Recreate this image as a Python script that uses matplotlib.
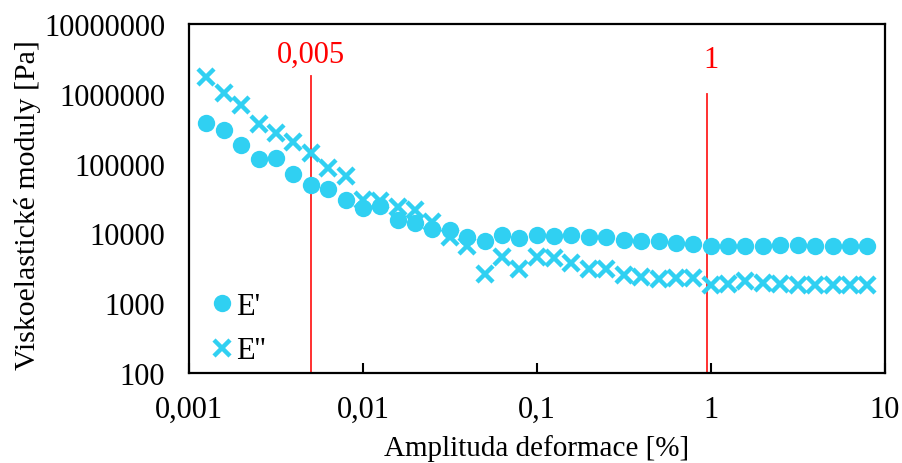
import matplotlib
matplotlib.use("Agg")
import matplotlib.pyplot as plt
from matplotlib.ticker import FixedLocator, NullLocator

plt.rcParams['font.family'] = ['Liberation Serif', 'DejaVu Serif']
plt.rcParams['font.size'] = 22

# amplituda deformace [%]
strain = [0.00126, 0.00158, 0.002, 0.00251, 0.00316, 0.00398, 0.00501, 0.00631, 0.00794,
          0.01, 0.0126, 0.0158, 0.02, 0.0251, 0.0316, 0.0398, 0.0501, 0.0631, 0.0794,
          0.1, 0.126, 0.158, 0.2, 0.251, 0.316, 0.398, 0.501, 0.631, 0.794,
          1.0, 1.26, 1.58, 2.0, 2.51, 3.16, 3.98, 5.01, 6.31, 7.94]
e_store = [378000, 303000, 184000, 116000, 122000, 72000, 49000, 44000, 30000,
           23000, 24800, 15800, 14300, 11700, 11100, 8900, 7800, 9400, 8700,
           9400, 9100, 9600, 8900, 8900, 8100, 7900, 7700, 7300, 7100,
           6700, 6700, 6700, 6700, 6900, 6900, 6700, 6700, 6700, 6700]
e_loss = [1770000, 1020000, 694000, 366000, 278000, 206000, 140000, 87000, 67000,
          30000, 29000, 24000, 22000, 14600, 8900, 6700, 2640, 4600, 3100,
          4600, 4450, 3800, 3100, 3050, 2500, 2400, 2240, 2300, 2300,
          1840, 1900, 2080, 1960, 1900, 1840, 1820, 1820, 1820, 1820]

marks = [0.005, 0.95]
mark_tops = [1.8e6, 1.0e6]
mark_labels = ['0,005', '1']
label_pos = [(0.005, 3.7e6), (1.0, 3.1e6)]

cyan = '#30D0F2'

fig = plt.figure(figsize=(9.02, 4.64), dpi=100)
ax = fig.add_axes([0.2095, 0.194, 0.7715, 0.752])

for xm, top in zip(marks, mark_tops):
    ax.plot([xm, xm], [100, top], color='#FF2020', lw=1.3, zorder=1)
for txt, (lx, ly) in zip(mark_labels, label_pos):
    ax.text(lx, ly, txt, color='red', ha='center', va='center', fontsize=22)

ax.plot(strain, e_store, 'o', ms=12.5, color=cyan, mec='none', label="E'", zorder=3)
ax.plot(strain, e_loss, 'x', ms=11, mew=3.2, color=cyan, label="E''", zorder=3)

ax.set_xscale('log')
ax.set_yscale('log')
ax.set_xlim(0.001, 10)
ax.set_ylim(100, 1e7)

ax.xaxis.set_major_locator(FixedLocator([0.001, 0.01, 0.1, 1, 10]))
ax.xaxis.set_minor_locator(NullLocator())
ax.set_xticklabels(['0,001', '0,01', '0,1', '1', '10'])
ax.yaxis.set_major_locator(FixedLocator([100, 1000, 1e4, 1e5, 1e6, 1e7]))
ax.yaxis.set_minor_locator(NullLocator())
ax.set_yticklabels(['100', '1000', '10000', '100000', '1000000', '10000000'])
ax.tick_params(axis='x', direction='in', length=7, width=1.5, pad=16)
ax.tick_params(axis='y', length=0, pad=17)
for s in ax.spines.values():
    s.set_linewidth(1.6)

ax.set_xlabel('Amplituda deformace [%]', fontsize=21, labelpad=7)
ax.set_ylabel('Viskoelastické moduly [Pa]', fontsize=21.5)
ax.yaxis.set_label_coords(-0.212, 0.484)

ax.legend(loc='lower left', frameon=False, handletextpad=0.05, handlelength=0.8,
          borderaxespad=0.0, labelspacing=0.5, bbox_to_anchor=(0.013, -0.013))

fig.savefig('out.png', dpi=100)
